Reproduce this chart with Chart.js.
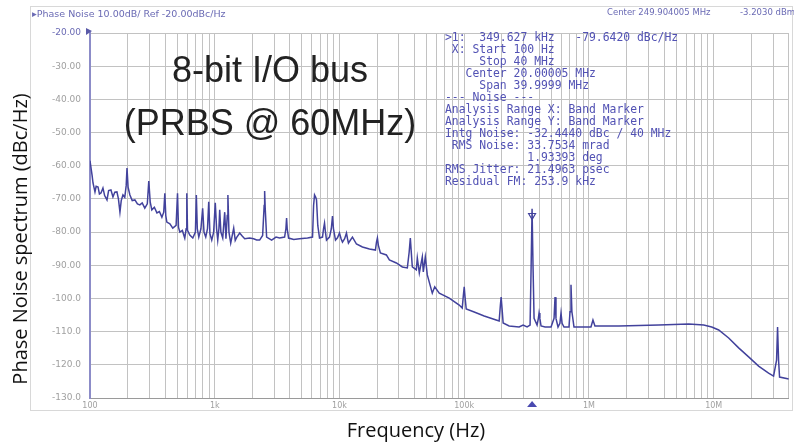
<!DOCTYPE html>
<html>
<head>
<meta charset="utf-8">
<script src="https://cdn.jsdelivr.net/npm/chart.js@4/dist/chart.umd.min.js"></script>
<style>
  html, body { margin: 0; padding: 0; background: #fff; }
</style>
</head>
<body>
<canvas id="pn" width="794" height="442"></canvas>
<script>
// trace (Hz, dBc/Hz)
const freqHz = [
  100, 104, 105.7, 109.6, 112, 116, 119, 122.5, 127, 131, 136.8, 141, 147.2, 152.8, 158, 164.4,
  169, 173.8, 178, 183.7, 190, 195, 198, 202, 208.9, 218, 229, 240, 251, 262, 275, 288,
  296, 304, 313, 328, 344, 360, 377, 390, 398, 405, 413, 437, 461, 490, 503, 512,
  525, 550, 575, 590, 597, 605, 631, 667, 700, 712, 725, 745, 775, 800, 820, 847,
  875, 895, 915, 946, 980, 1010, 1035, 1057, 1080, 1096, 1120, 1159, 1202, 1230, 1260, 1275,
  1300, 1343, 1419, 1460, 1500, 1585, 1660, 1738, 1905, 2050, 2168, 2291, 2421, 2490, 2512, 2540,
  2606, 2858, 3100, 3311, 3631, 3720, 3767, 3810, 3908, 4300, 4786, 5546, 6081, 6200, 6310, 6450,
  6546, 6700, 6918, 7311, 7450, 7586, 7720, 7870, 8318, 8600, 8790, 8950, 9290, 9638, 10000, 10300,
  10568, 11000, 11376, 11600, 11803, 12706, 13677, 15276, 17378, 19409, 19800, 20137, 20500, 21281, 23768, 25119,
  28576, 31915, 34995, 36200, 36983, 37700, 38371, 41305, 42073, 43652, 46132, 46989, 48753, 50582, 55463, 58000,
  63096, 75858, 91201, 96383, 98500, 100000, 101500, 103753, 120226, 144544, 180302, 190546, 195000, 197697, 201000, 205116,
  229087, 275423, 296483, 319154, 337287, 344000, 349945, 356000, 363078, 383707, 393000, 398107, 404000, 413048, 444631, 496592,
  525000, 534564, 544000, 564937, 585000, 597035, 609000, 630957, 691831, 705000, 717794, 730000, 758578, 912011, 1037528, 1076465,
  1116863, 1737801, 3630781, 6309573, 8317638, 9638290, 10964782, 13182567, 15848932, 19054607, 22908677, 27542287, 30199517, 31915378, 32508729, 33113112,
  33728730, 40000000
];
const noiseDb = [
  -58.5, -63, -65.2, -67.9, -66.2, -66.4, -68.5, -68.2, -66.7, -69, -70.3, -67.5, -67.3, -69.4, -68, -67.9,
  -70, -74, -70.5, -68.8, -69.5, -66, -60.7, -66.5, -68.8, -70.5, -70.3, -71.5, -71.8, -71.2, -72.8, -71.5,
  -64.6, -71, -73.3, -72.5, -74.2, -73.8, -75.5, -74, -68.3, -75, -77, -77.5, -78.8, -78, -68.3, -78.5,
  -80, -79.5, -81.8, -79, -68.3, -79.5, -80.9, -81.8, -80, -68.8, -79, -81.5, -79, -72.8, -80, -81.5,
  -79, -70.9, -80.5, -82.4, -80, -71.2, -79, -82.4, -79, -73.3, -80, -81.8, -74, -82, -75, -68.8,
  -80, -83.3, -78.8, -82.5, -81.6, -80.3, -81.2, -82, -81.8, -82, -82.4, -82.4, -81, -72, -67.6, -73,
  -81.5, -82.4, -81.5, -81.8, -81.5, -79, -75.8, -79, -81.8, -82.2, -82, -81.8, -81.5, -72, -68.8, -69.5,
  -70.3, -78, -81.8, -81.5, -79, -77.3, -80, -82.4, -81.5, -79, -75.2, -79, -82.4, -81.7, -80.3, -82,
  -83, -82, -80.3, -82, -83.3, -81.5, -83.6, -84.5, -85.1, -85.4, -83, -81.8, -84, -86.3, -86.9, -88.4,
  -89.3, -90.5, -90.8, -86, -81.8, -86.5, -90.5, -91.4, -87.8, -92.3, -87.5, -92, -87.5, -92.9, -98.4, -96.5,
  -98.4, -99.9, -102, -102.9, -99, -96.5, -99.5, -103.2, -104.1, -105.3, -106.5, -106.8, -102, -99.6, -103, -107.4,
  -108.3, -108.6, -108, -108.6, -108, -90, -73, -90, -106, -108, -106, -104.4, -106, -108.3, -108.6, -108.6,
  -106, -99.6, -106, -108.6, -107.5, -104.4, -107.5, -108.6, -108.6, -104, -95.9, -104, -108.6, -108.6, -108.6, -106.5,
  -108.3, -108.3, -108, -107.7, -108, -108.6, -109.5, -111.9, -114.9, -117.6, -120.4, -122.5, -123.4, -118.6, -108.6, -118.6,
  -123.7, -124.3
];
const markerHz = [349945];
const markerDb = [-75];

const yTicks = [-20, -30, -40, -50, -60, -70, -80, -90, -100, -110, -120, -130];
const decadeHz = [100, 1e3, 1e4, 1e5, 1e6, 1e7];
const decadeLabels = ['100', '1k', '10k', '100k', '1M', '10M'];

const headerLeft = 'Phase Noise 10.00dB/ Ref -20.00dBc/Hz';
const headerCenter = 'Center 249.904005 MHz';
const headerRight = '-3.2030 dBm';
const readout = [
  '>1:  349.627 kHz   -79.6420 dBc/Hz',
  ' X: Start 100 Hz',
  '     Stop 40 MHz',
  '   Center 20.00005 MHz',
  '     Span 39.9999 MHz',
  '--- Noise ---',
  'Analysis Range X: Band Marker',
  'Analysis Range Y: Band Marker',
  'Intg Noise: -32.4440 dBc / 40 MHz',
  ' RMS Noise: 33.7534 mrad',
  '            1.93393 deg',
  'RMS Jitter: 21.4963 psec',
  'Residual FM: 253.9 kHz'
];
const overlay = ['8-bit I/O bus', '(PRBS @ 60MHz)'];

// grid at 1..9 of each decade up to 40 MHz
const gridHz = [];
decadeHz.forEach(d => {
  for (let k = 1; k <= 9; k++) {
    if (d * k <= 4e7) gridHz.push(d * k);
  }
});

const trace = freqHz.map((f, i) => ({ x: f, y: noiseDb[i] }));
const marker = markerHz.map((f, i) => ({ x: f, y: markerDb[i] }));

const decor = {
  id: 'decor',
  beforeDraw(chart) {
    const c = chart.ctx;
    c.save();
    c.strokeStyle = '#d8d8d8';
    c.lineWidth = 1;
    c.strokeRect(30.5, 6.5, 762, 404);
    c.restore();
  },
  afterDraw(chart) {
    const c = chart.ctx;
    const xs = chart.scales.x;
    const ys = chart.scales.y;
    c.save();

    // analyzer header
    c.font = '9.5px "DejaVu Sans"';
    c.fillStyle = '#6a6ab4';
    c.textBaseline = 'middle';
    c.textAlign = 'left';
    c.fillText('\u25B8' + headerLeft, 32, 15);
    c.font = '8.5px "DejaVu Sans"';
    c.fillText(headerCenter, 607, 13);
    c.fillText(headerRight, 740, 13);

    // reference flag at top of y axis
    c.fillStyle = '#5a5aa8';
    c.beginPath();
    c.moveTo(ys.left + 86, 28);
    c.lineTo(ys.left + 92, 31);
    c.lineTo(ys.left + 86, 35);
    c.closePath();
    c.fill();

    // marker readout
    c.font = '11.4px "DejaVu Sans Mono"';
    c.fillStyle = '#5252b4';
    c.textBaseline = 'alphabetic';
    readout.forEach((line, i) => c.fillText(line, 445, 41 + i * 12));

    // overlay note
    c.font = '36px "Liberation Sans"';
    c.fillStyle = '#222';
    c.textAlign = 'center';
    c.fillText(overlay[0], 270, 82);
    c.fillText(overlay[1], 270, 135);

    // marker position triangle under the axis
    const mx = xs.getPixelForValue(markerHz[0]);
    c.fillStyle = '#4a4ab0';
    c.beginPath();
    c.moveTo(mx - 5, 407);
    c.lineTo(mx + 5, 407);
    c.lineTo(mx, 401);
    c.closePath();
    c.fill();

    // axis titles
    c.fillStyle = '#111';
    c.font = '20px "Open Sans"';
    c.textAlign = 'center';
    c.fillText('Frequency (Hz)', 416, 437);
    c.translate(27, 239);
    c.rotate(-Math.PI / 2);
    c.fillText('Phase Noise spectrum (dBc/Hz)', 0, 0);
    c.restore();
  }
};

new Chart(document.getElementById('pn').getContext('2d'), {
  type: 'scatter',
  data: {
    datasets: [
      {
        data: trace,
        showLine: true,
        borderColor: 'rgb(66,66,156)',
        borderWidth: 1.5,
        pointRadius: 0,
        tension: 0
      },
      {
        data: marker,
        showLine: false,
        pointStyle: 'triangle',
        rotation: 180,
        pointRadius: 4,
        borderWidth: 1.2,
        borderColor: 'rgb(66,66,156)',
        backgroundColor: '#fff'
      }
    ]
  },
  options: {
    responsive: false,
    animation: false,
    layout: { padding: { left: 0, top: 33, right: 4, bottom: 0 } },
    plugins: { legend: { display: false }, tooltip: { enabled: false } },
    scales: {
      x: {
        type: 'logarithmic',
        min: 100,
        max: 4e7,
        afterBuildTicks: s => { s.ticks = gridHz.map(v => ({ value: v })); },
        afterFit: s => { s.height = 44; },
        grid: { color: '#c2c2c2', drawTicks: false },
        border: { color: '#9a9a9a' },
        ticks: {
          autoSkip: false,
          maxRotation: 0,
          padding: 3,
          color: '#a0a0a0',
          font: { size: 8, family: 'DejaVu Sans' },
          callback: v => {
            const i = decadeHz.indexOf(v);
            return i >= 0 ? decadeLabels[i] : '';
          }
        }
      },
      y: {
        min: -130,
        max: -20,
        afterBuildTicks: s => { s.ticks = yTicks.map(v => ({ value: v })); },
        afterFit: s => { s.width = 90; },
        grid: { color: '#c2c2c2', drawTicks: false },
        border: { color: '#8c8cc8', width: 2 },
        ticks: {
          padding: 9,
          color: ctx => (ctx.tick && ctx.tick.value === -20 ? '#6a6ab4' : '#a0a0a0'),
          font: { size: 9, family: 'DejaVu Sans' },
          callback: v => (v > -100 ? v.toFixed(2) : v.toFixed(1))
        }
      }
    }
  },
  plugins: [decor]
});
</script>
</body>
</html>
